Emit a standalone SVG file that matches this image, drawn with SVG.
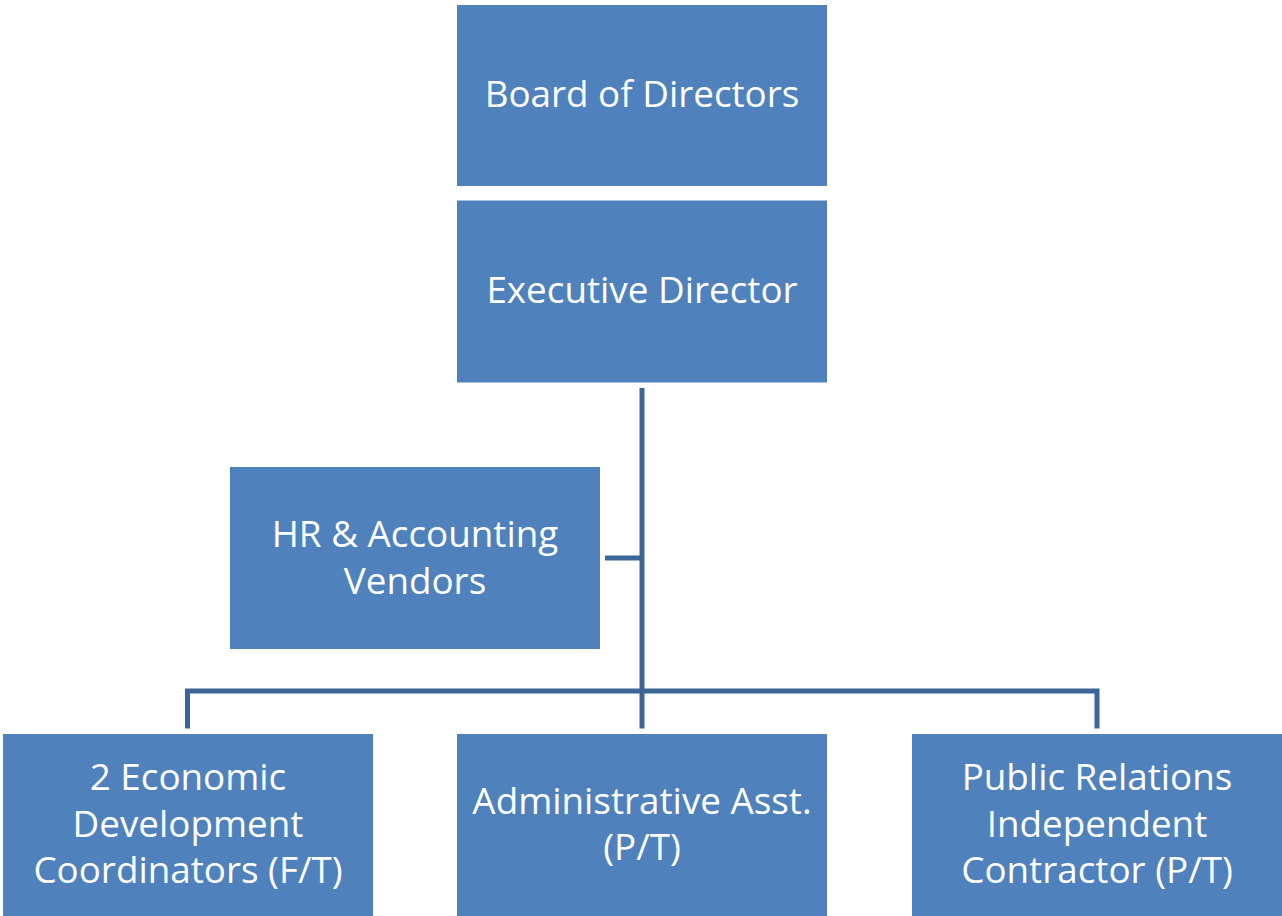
<svg xmlns="http://www.w3.org/2000/svg" width="1282" height="916" viewBox="0 0 1282 916">
<style>
.box{fill:#4F81BD;}
.lbl{fill:#FFFFFF;font-family:"Open Sans","Noto Sans",sans-serif;font-size:36.8px;text-anchor:middle;}
.conn{fill:none;stroke:#3D6697;stroke-width:5;stroke-linejoin:miter;}
</style>
<rect width="1282" height="916" fill="#FFFFFF"/>
<g id="connectors">
<path class="conn" d="M642 388 V728.5"/>
<path class="conn" d="M605 558 H642"/>
<path class="conn" d="M187.5 728.5 V691 H1097 V728.5"/>
</g>
<g id="board">
<rect class="box" x="457" y="5" width="370" height="181"/>
<text class="lbl" x="642" y="106.5">Board of Directors</text>
</g>
<g id="executive">
<rect class="box" x="457" y="200.5" width="370" height="182"/>
<text class="lbl" x="642" y="302.5">Executive Director</text>
</g>
<g id="hr">
<rect class="box" x="230" y="467" width="370" height="182"/>
<text class="lbl" x="415" y="547">HR &amp; Accounting</text>
<text class="lbl" x="415" y="593.5">Vendors</text>
</g>
<g id="econ">
<rect class="box" x="3" y="734" width="370" height="182"/>
<text class="lbl" x="188" y="790">2 Economic</text>
<text class="lbl" x="188" y="836.5">Development</text>
<text class="lbl" x="188" y="883">Coordinators (F/T)</text>
</g>
<g id="admin">
<rect class="box" x="457" y="734" width="370" height="182"/>
<text class="lbl" x="642" y="813.5">Administrative Asst.</text>
<text class="lbl" x="642" y="860">(P/T)</text>
</g>
<g id="pr">
<rect class="box" x="912" y="734" width="370" height="182"/>
<text class="lbl" x="1097" y="790">Public Relations</text>
<text class="lbl" x="1097" y="836.5">Independent</text>
<text class="lbl" x="1097" y="883">Contractor (P/T)</text>
</g>
</svg>
